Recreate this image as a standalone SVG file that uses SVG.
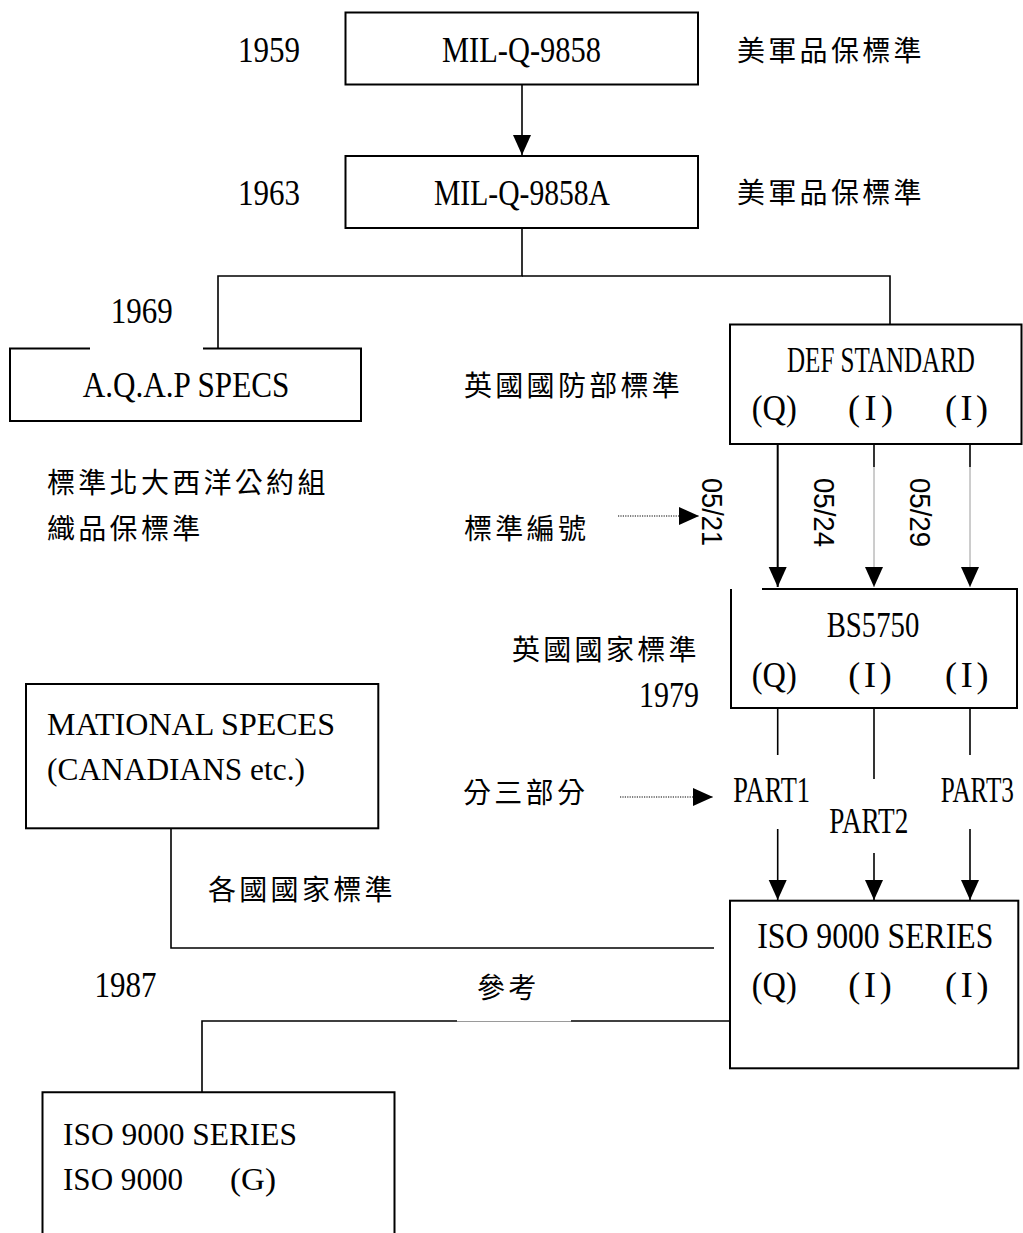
<svg xmlns="http://www.w3.org/2000/svg" width="1023" height="1233" viewBox="0 0 1023 1233">
<style>
.box{fill:none;stroke:#000;stroke-width:2}
.ln{fill:none;stroke:#000;stroke-width:1.6}
.thin{fill:none;stroke:#9a9a9a;stroke-width:1}
.dot{fill:none;stroke:#000;stroke-width:1.2;stroke-dasharray:1.2 1.2}
.n{font-family:"Liberation Serif",serif;font-size:36px;fill:#000}
.t{font-family:"Liberation Serif",serif;font-size:31px;fill:#000}
.c{font-family:"Noto Sans CJK TC","Noto Sans CJK SC",sans-serif;font-size:28px;letter-spacing:3.3px;fill:#000}
.r{font-family:"Liberation Sans",sans-serif;font-size:30px;fill:#000}
</style>
<defs>
<marker id="arr" viewBox="0 0 20 20" refX="20" refY="10" markerWidth="20" markerHeight="20" markerUnits="userSpaceOnUse" orient="auto">
<path d="M0,1 L20,10 L0,19 Z" fill="#000"/>
</marker>
</defs>
<rect width="1023" height="1233" fill="#fff"/>

<g id="connectors">
<line class="ln" x1="522" y1="85" x2="522" y2="155" marker-end="url(#arr)"/>
<polyline class="ln" points="522,228 522,276 218,276 218,348"/>
<polyline class="ln" points="522,276 890,276 890,324"/>
<line class="ln" x1="777.7" y1="444" x2="777.7" y2="587" marker-end="url(#arr)" style="stroke-width:2"/>
<line class="ln" x1="874" y1="444" x2="874" y2="467"/>
<line class="thin" x1="874" y1="467" x2="874" y2="587" marker-end="url(#arr)"/>
<line class="ln" x1="970" y1="444" x2="970" y2="467"/>
<line class="thin" x1="970" y1="467" x2="970" y2="587" marker-end="url(#arr)"/>
<line class="dot" x1="618" y1="516" x2="699" y2="516" marker-end="url(#arr)"/>
<line class="ln" x1="777.7" y1="708" x2="777.7" y2="755"/>
<line class="ln" x1="874" y1="708" x2="874" y2="779"/>
<line class="ln" x1="970" y1="708" x2="970" y2="755"/>
<line class="dot" x1="620" y1="797" x2="713" y2="797" marker-end="url(#arr)"/>
<line class="ln" x1="777.7" y1="829" x2="777.7" y2="900" marker-end="url(#arr)"/>
<line class="ln" x1="874" y1="853" x2="874" y2="900" marker-end="url(#arr)"/>
<line class="ln" x1="970" y1="829" x2="970" y2="900" marker-end="url(#arr)"/>
<polyline class="ln" points="171,828 171,948 714,948"/>
<polyline class="ln" points="730,1021 571,1021"/>
<line class="thin" x1="571" y1="1021.5" x2="457" y2="1021.5"/>
<polyline class="ln" points="457,1021 202,1021 202,1092"/>
</g>

<g id="label-1959"><text class="n" x="238" y="62" textLength="62" lengthAdjust="spacingAndGlyphs">1959</text></g>
<g id="node-mil-q-9858">
<rect class="box" x="345.5" y="12.5" width="352.5" height="72"/>
<text class="n" x="442" y="62" textLength="159" lengthAdjust="spacingAndGlyphs">MIL-Q-9858</text>
</g>
<g id="label-us1"><text class="c" x="737" y="61">美軍品保標準</text></g>

<g id="label-1963"><text class="n" x="238" y="205" textLength="62" lengthAdjust="spacingAndGlyphs">1963</text></g>
<g id="node-mil-q-9858a">
<rect class="box" x="345.5" y="156" width="352.5" height="72"/>
<text class="n" x="434" y="205" textLength="176" lengthAdjust="spacingAndGlyphs">MIL-Q-9858A</text>
</g>
<g id="label-us2"><text class="c" x="737" y="203">美軍品保標準</text></g>

<g id="label-1969"><text class="n" x="110.7" y="323" textLength="62" lengthAdjust="spacingAndGlyphs">1969</text></g>
<g id="node-aqap">
<path class="box" d="M90,348.5 H10 V421 H361 V348.5 H203"/>
<text class="n" x="82.7" y="396.7" textLength="206.6" lengthAdjust="spacingAndGlyphs">A.Q.A.P SPECS</text>
</g>
<g id="label-nato">
<text class="c" x="47" y="493">標準北大西洋公約組</text>
<text class="c" x="47" y="539">織品保標準</text>
</g>
<g id="label-ukmod"><text class="c" x="464" y="396">英國國防部標準</text></g>

<g id="node-def">
<rect class="box" x="730" y="324.5" width="291.5" height="119.5"/>
<text class="n" transform="translate(787,371.7) scale(0.696,1)" x="0" y="0">DEF STANDARD</text>
<text class="n" x="751.7" y="420" textLength="45" lengthAdjust="spacingAndGlyphs">(Q)</text>
<text class="n" x="848" y="420" textLength="45" lengthAdjust="spacing">(I)</text>
<text class="n" x="945" y="420" textLength="43" lengthAdjust="spacing">(I)</text>
</g>

<g id="label-stdno"><text class="c" x="464" y="539">標準編號</text></g>
<g id="label-0521"><text class="r" transform="translate(702,478) rotate(90)" textLength="68" lengthAdjust="spacingAndGlyphs">05/21</text></g>
<g id="label-0524"><text class="r" transform="translate(813.5,478) rotate(90)" textLength="69" lengthAdjust="spacingAndGlyphs">05/24</text></g>
<g id="label-0529"><text class="r" transform="translate(909.5,478) rotate(90)" textLength="69" lengthAdjust="spacingAndGlyphs">05/29</text></g>

<g id="node-bs5750">
<path class="box" d="M762,589 H1017 V708 H731 V589"/>
<text class="n" x="826.7" y="636.7" textLength="92.6" lengthAdjust="spacingAndGlyphs">BS5750</text>
<text class="n" x="751.7" y="686.7" textLength="45" lengthAdjust="spacingAndGlyphs">(Q)</text>
<text class="n" x="848.3" y="686.7" textLength="43.5" lengthAdjust="spacing">(I)</text>
<text class="n" x="945" y="686.7" textLength="43.5" lengthAdjust="spacing">(I)</text>
</g>
<g id="label-ukns"><text class="c" x="512" y="660">英國國家標準</text></g>
<g id="label-1979"><text class="n" x="639" y="707" textLength="60" lengthAdjust="spacingAndGlyphs">1979</text></g>

<g id="label-3parts"><text class="c" x="463" y="803">分三部分</text></g>
<g id="label-part1"><text class="n" x="733.3" y="801.7" textLength="76.7" lengthAdjust="spacingAndGlyphs">PART1</text></g>
<g id="label-part2"><text class="n" x="829.3" y="832.7" textLength="79" lengthAdjust="spacingAndGlyphs">PART2</text></g>
<g id="label-part3"><text class="n" transform="translate(940.7,801.7) scale(0.7,1)" x="0" y="0">PART3</text></g>

<g id="node-national">
<rect class="box" x="26" y="684" width="352.3" height="144.3"/>
<text class="t" x="47" y="735" textLength="288" lengthAdjust="spacingAndGlyphs">MATIONAL SPECES</text>
<text class="t" x="47" y="780" textLength="258" lengthAdjust="spacingAndGlyphs">(CANADIANS etc.)</text>
</g>
<g id="label-nations"><text class="c" x="208" y="900">各國國家標準</text></g>

<g id="node-iso-right">
<rect class="box" x="730" y="900.7" width="288.3" height="167.6"/>
<text class="n" x="757.3" y="948.3" textLength="236" lengthAdjust="spacingAndGlyphs">ISO 9000 SERIES</text>
<text class="n" x="751.7" y="996.7" textLength="45" lengthAdjust="spacingAndGlyphs">(Q)</text>
<text class="n" x="848.3" y="996.7" textLength="43.5" lengthAdjust="spacing">(I)</text>
<text class="n" x="945" y="996.7" textLength="43.5" lengthAdjust="spacing">(I)</text>
</g>
<g id="label-1987"><text class="n" x="94.6" y="996.7" textLength="62" lengthAdjust="spacingAndGlyphs">1987</text></g>
<g id="label-ref"><text class="c" x="477" y="998">參考</text></g>

<g id="node-iso-left">
<path class="box" d="M42.5,1240 V1092.3 H394.5 V1240"/>
<text class="t" x="63" y="1145" textLength="234" lengthAdjust="spacingAndGlyphs">ISO 9000 SERIES</text>
<text class="t" x="63" y="1190" textLength="120" lengthAdjust="spacingAndGlyphs">ISO 9000</text>
<text class="t" x="230" y="1190" textLength="46" lengthAdjust="spacingAndGlyphs">(G)</text>
</g>
</svg>
